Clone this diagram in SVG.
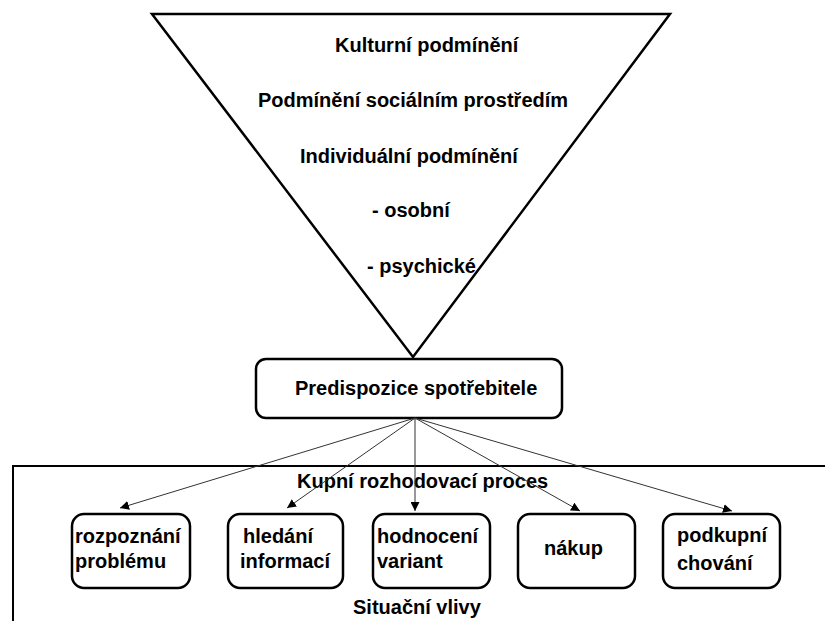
<svg xmlns="http://www.w3.org/2000/svg" width="825" height="621" viewBox="0 0 825 621">
<style>
text{font-family:"Liberation Sans",Arial,sans-serif;font-weight:bold;font-size:20px;fill:#000}
.box{fill:#fff;stroke:#000;stroke-width:2.5}
.conn{stroke:#333;stroke-width:1;fill:none;marker-end:url(#ah)}
</style>
<defs>
<marker id="ah" viewBox="0 0 10 10" refX="10" refY="5" markerWidth="9" markerHeight="9" markerUnits="userSpaceOnUse" orient="auto">
<path d="M0,0 L10,5 L0,10 z" fill="#000"/>
</marker>
</defs>
<rect width="825" height="621" fill="#fff"/>
<g id="triangle">
<polygon points="152,14 670,14 413,357" fill="#fff" stroke="#000" stroke-width="2.5"/>
<text x="335" y="52">Kulturní podmínění</text>
<text x="258" y="107">Podmínění sociálním prostředím</text>
<text x="300" y="163">Individuální podmínění</text>
<text x="372" y="217">- osobní</text>
<text x="367" y="273">- psychické</text>
</g>
<g id="process">
<rect x="13" y="466" width="830" height="200" fill="none" stroke="#000" stroke-width="2"/>
<text x="297" y="488" font-size="19.5">Kupní rozhodovací proces</text>
<text x="353" y="614" font-size="19">Situační vlivy</text>
</g>
<g id="predispozice">
<rect class="box" x="256" y="359" width="306" height="59" rx="10"/>
<text x="295" y="395" font-size="19.5">Predispozice spotřebitele</text>
</g>
<g id="connectors">
<line class="conn" x1="415" y1="418" x2="120" y2="508"/>
<line class="conn" x1="415" y1="418" x2="287" y2="508"/>
<line class="conn" x1="415" y1="418" x2="415" y2="511"/>
<line class="conn" x1="415" y1="418" x2="580" y2="511"/>
<line class="conn" x1="415" y1="418" x2="732" y2="511"/>
</g>
<g id="rozpoznani">
<rect class="box" x="72" y="514" width="118" height="74" rx="12"/>
<text x="75" y="543">rozpoznání</text>
<text x="75" y="568">problému</text>
</g>
<g id="hledani">
<rect class="box" x="228" y="514" width="115" height="74" rx="12"/>
<text x="243" y="543">hledání</text>
<text x="240" y="568">informací</text>
</g>
<g id="hodnoceni">
<rect class="box" x="373" y="514" width="117" height="74" rx="12"/>
<text x="377" y="543">hodnocení</text>
<text x="377" y="568">variant</text>
</g>
<g id="nakup">
<rect class="box" x="518" y="514" width="117" height="74" rx="12"/>
<text x="544" y="555">nákup</text>
</g>
<g id="podkupni">
<rect class="box" x="663" y="514" width="117" height="74" rx="12"/>
<text x="677" y="542">podkupní</text>
<text x="677" y="570">chování</text>
</g>
</svg>
